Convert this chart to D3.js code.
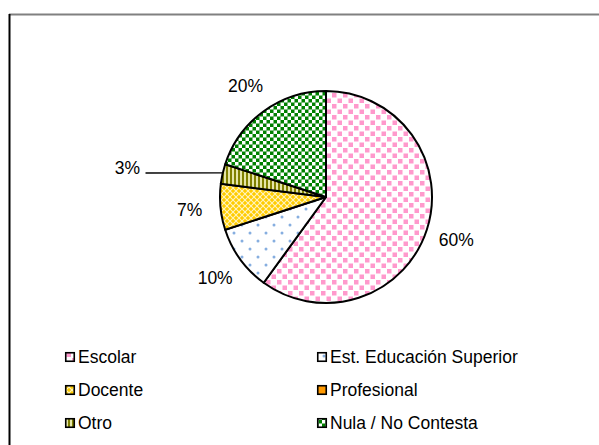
<!DOCTYPE html>
<html><head><meta charset="utf-8">
<script src="https://cdn.jsdelivr.net/npm/d3@7"></script>
<style>body{margin:0;background:#fff;}svg{display:block;font-family:"Liberation Sans",Arial,sans-serif;}</style>
</head><body>
<svg id="c" width="599" height="445"></svg>
<script>
const categories = ["Escolar","Est. Educación Superior","Docente","Profesional","Otro","Nula / No Contesta"];
const values = [60,10,7,0,3,20];
const labels = ["60%","10%","7%","0%","3%","20%"];
const patternIds = ["pEsc","pEst","pDoc","pPro","pOtr","pNul"];

const svg = d3.select("#c");
const defs = svg.append("defs");

// Escolar: pink squares on white
let p = defs.append("pattern").attr("id","pEsc").attr("patternUnits","userSpaceOnUse").attr("width",11).attr("height",11);
p.append("rect").attr("width",11).attr("height",11).attr("fill","#fff");
p.append("rect").attr("x",0.5).attr("y",0.5).attr("width",4.5).attr("height",4.5).attr("fill","#ff99cc");
p.append("rect").attr("x",6).attr("y",6).attr("width",4.5).attr("height",4.5).attr("fill","#ff99cc");
// Est. Ed. Superior: blue dots on white
p = defs.append("pattern").attr("id","pEst").attr("patternUnits","userSpaceOnUse").attr("width",16).attr("height",16);
p.append("rect").attr("width",16).attr("height",16).attr("fill","#fff");
p.append("circle").attr("cx",4).attr("cy",4).attr("r",1.5).attr("fill","#86aee0");
p.append("circle").attr("cx",12).attr("cy",12).attr("r",1.5).attr("fill","#86aee0");
// Docente: yellow with white diagonal lattice
p = defs.append("pattern").attr("id","pDoc").attr("patternUnits","userSpaceOnUse").attr("width",6).attr("height",6);
p.append("rect").attr("width",6).attr("height",6).attr("fill","#ffcc00");
p.append("path").attr("d","M0,0L6,6M6,0L0,6").attr("stroke","#fff4c0").attr("stroke-width",1.1);
// Profesional: orange
p = defs.append("pattern").attr("id","pPro").attr("patternUnits","userSpaceOnUse").attr("width",4).attr("height",4);
p.append("rect").attr("width",4).attr("height",4).attr("fill","#ff9900");
// Otro: olive vertical stripes
p = defs.append("pattern").attr("id","pOtr").attr("patternUnits","userSpaceOnUse").attr("width",4).attr("height",4);
p.append("rect").attr("width",4).attr("height",4).attr("fill","#e6e6a8");
p.append("rect").attr("width",2).attr("height",4).attr("fill","#808000");
// Nula: green checkerboard
p = defs.append("pattern").attr("id","pNul").attr("patternUnits","userSpaceOnUse").attr("width",7).attr("height",7);
p.append("rect").attr("width",7).attr("height",7).attr("fill","#008000");
p.append("rect").attr("x",0).attr("y",0).attr("width",3.5).attr("height",3.5).attr("fill","#fff");
p.append("rect").attr("x",3.5).attr("y",3.5).attr("width",3.5).attr("height",3.5).attr("fill","#fff");

// frame
svg.append("line").attr("x1",9).attr("x2",599).attr("y1",14.5).attr("y2",14.5).attr("stroke","#808080").attr("stroke-width",2);
svg.append("line").attr("x1",9.5).attr("x2",9.5).attr("y1",14).attr("y2",445).attr("stroke","#000").attr("stroke-width",2);

const cx = 326, cy = 197, R = 106;
const data = categories.map((c,i)=>({cat:c, value:values[i], label:labels[i], pat:patternIds[i]}));
const pie = d3.pie().value(d=>d.value).sort(null);
const arcs = pie(data);
const arc = d3.arc().innerRadius(0).outerRadius(R);
const lblArc = d3.arc().innerRadius(137).outerRadius(137);
const g = svg.append("g").attr("transform",`translate(${cx},${cy})`);
g.selectAll("path.s").data(arcs.filter(a=>a.data.value>0)).join("path")
  .attr("class","s").attr("d",arc).attr("fill",d=>`url(#${d.data.pat})`)
  .attr("stroke","#000").attr("stroke-width",2).attr("stroke-linejoin","round");

arcs.filter(a=>a.data.value>0).forEach(a=>{
  let [x,y] = lblArc.centroid(a);
  if (a.data.value < 5) {
    // leader line label
    const edge = d3.arc().innerRadius(R).outerRadius(R).centroid(a);
    const tx = 127.5 - cx, ty = 168 - cy;
    g.append("path").attr("d",`M${tx+18},${ty+5}L${edge[0]},${edge[1]-1}`).attr("stroke","#000").attr("stroke-width",1.3).attr("fill","none");
    x = tx; y = ty;
  }
  g.append("text").attr("x",x).attr("y",y).attr("text-anchor","middle").attr("dy","0.36em")
   .attr("font-size",17.5).attr("fill","#000").text(a.data.label);
});

// legend
const legX = [65, 317], legY = [357, 390, 423];
categories.forEach((c,i)=>{
  const col = i%2, row = Math.floor(i/2);
  const x = legX[col], y = legY[row];
  svg.append("rect").attr("x",x+0.75).attr("y",y-4.25).attr("width",8.5).attr("height",8.5)
    .attr("fill",`url(#${patternIds[i]})`).attr("stroke","#000").attr("stroke-width",1.6);
  svg.append("text").attr("x",x+13).attr("y",y).attr("dy","0.36em").attr("font-size",17.5).attr("fill","#000").text(c);
});
</script>
</body></html>
